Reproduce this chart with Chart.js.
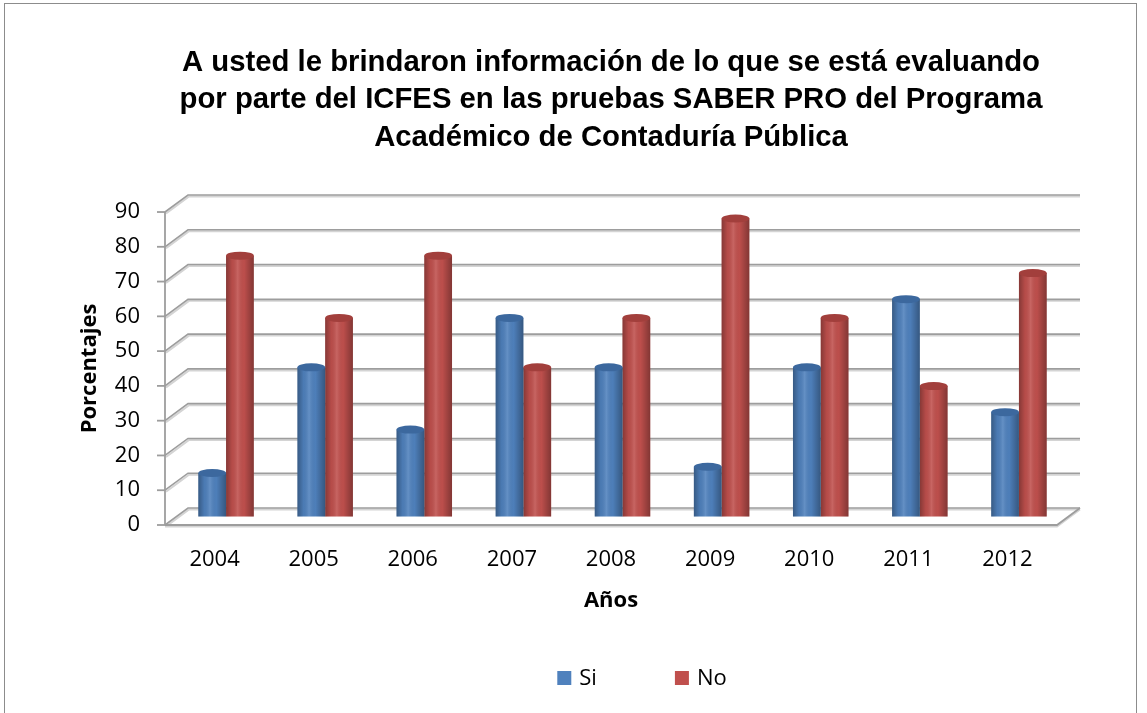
<!DOCTYPE html>
<html>
<head>
<meta charset="utf-8">
<script src="https://cdn.jsdelivr.net/npm/chart.js@4.4.1/dist/chart.umd.min.js"></script>
<style>
html,body{margin:0;padding:0;background:#fff;overflow:hidden;width:1147px;height:713px}
#frame{position:absolute;left:4px;top:3px;width:1133px;height:740px;border:1.5px solid #8c8c8c;box-sizing:border-box}
#wrap{position:absolute;left:0;top:0;width:1147px;height:713px}
</style>
</head>
<body>
<div id="frame"></div>
<div id="wrap"><canvas id="c" width="1147" height="713"></canvas></div>
<script>
// ---- data ----
const categories = ['2004', '2005', '2006', '2007', '2008', '2009', '2010', '2011', '2012'];
const siValues = [12.5, 42.9, 25, 57.1, 42.9, 14.3, 42.9, 62.5, 30];
const noValues = [75, 57.1, 75, 42.9, 57.1, 85.7, 57.1, 37.5, 70];
const seriesNames = ['Si', 'No'];
const yTicks = [0, 10, 20, 30, 40, 50, 60, 70, 80, 90];
const titleLines = [
  'A usted le brindaron información de lo que se está evaluando',
  'por parte del ICFES en las pruebas SABER PRO del Programa',
  'Académico de Contaduría Pública'
];
const xTitle = 'Años';
const yTitle = 'Porcentajes';

// ---- style ----
const COLORS = ['#4f81bd', '#c0504d'];
const CAPS = ['#3c689e', '#a23f3c'];
const DX = 23, DY = 17;
const FONT = '"Open Sans", "DejaVu Sans", sans-serif';

const wallPlugin = {
  id: 'wall3d',
  beforeDatasetsDraw(chart) {
    const {ctx, chartArea: {left, right, bottom}, scales: {y}} = chart;
    ctx.save();
    yTicks.forEach(v => {
      const py = y.getPixelForValue(v);
      ctx.lineWidth = 2;
      ctx.strokeStyle = '#d4d4d4';
      ctx.beginPath();
      ctx.moveTo(left + 1, py + 1.5);
      ctx.lineTo(left + DX + 1, py - DY + 1.5);
      ctx.lineTo(right + DX, py - DY + 1.5);
      ctx.stroke();
      ctx.strokeStyle = '#9d9d9d';
      ctx.lineWidth = 1.6;
      ctx.beginPath();
      ctx.moveTo(left, py);
      ctx.lineTo(left + DX, py - DY);
      ctx.lineTo(right + DX, py - DY);
      ctx.stroke();
    });
    ctx.strokeStyle = '#d4d4d4';
    ctx.lineWidth = 2;
    ctx.beginPath();
    ctx.moveTo(left, bottom + 1.5);
    ctx.lineTo(right, bottom + 1.5);
    ctx.lineTo(right + DX, bottom - DY + 1.5);
    ctx.stroke();
    ctx.strokeStyle = '#9d9d9d';
    ctx.lineWidth = 1.8;
    ctx.beginPath();
    ctx.moveTo(left, bottom);
    ctx.lineTo(right, bottom);
    ctx.lineTo(right + DX, bottom - DY);
    ctx.stroke();
    const top90 = y.getPixelForValue(yTicks[yTicks.length - 1]);
    ctx.beginPath();
    ctx.moveTo(left, top90);
    ctx.lineTo(left, bottom);
    ctx.stroke();
    yTicks.forEach(v => {
      const py = y.getPixelForValue(v);
      ctx.beginPath();
      ctx.moveTo(left - 8, py);
      ctx.lineTo(left, py);
      ctx.stroke();
    });
    ctx.restore();
    ctx.save();
    ctx.translate(DX / 2, -DY / 2);
  },
  afterDatasetsDraw(chart) {
    const ctx = chart.ctx;
    chart.data.datasets.forEach((ds, di) => {
      const meta = chart.getDatasetMeta(di);
      meta.data.forEach(el => {
        const {x, y, base, width} = el.getProps(['x', 'y', 'base', 'width'], true);
        const l = x - width / 2;
        const g = ctx.createLinearGradient(l, 0, l + width, 0);
        g.addColorStop(0, 'rgba(0,0,0,0.30)');
        g.addColorStop(0.22, 'rgba(0,0,0,0.05)');
        g.addColorStop(0.42, 'rgba(255,255,255,0.12)');
        g.addColorStop(0.65, 'rgba(0,0,0,0.02)');
        g.addColorStop(1, 'rgba(0,0,0,0.32)');
        ctx.fillStyle = g;
        ctx.fillRect(l, y, width, base - y);
        ctx.fillStyle = CAPS[di];
        ctx.beginPath();
        ctx.ellipse(x, y, width / 2, 4, 0, 0, Math.PI * 2);
        ctx.fill();
      });
    });
    ctx.restore();
  },
  afterDraw(chart) {
    const ctx = chart.ctx;
    ctx.save();
    ctx.font = '22px ' + FONT;
    ctx.textBaseline = 'middle';
    ctx.textAlign = 'left';
    const box = 14, gap = 8, spacing = 78, cx = 642, cy = 678;
    const widths = chart.data.datasets.map(d => box + gap + ctx.measureText(d.label).width);
    const total = widths.reduce((a, b) => a + b, 0) + spacing * (widths.length - 1);
    let xx = cx - total / 2;
    chart.data.datasets.forEach((d, i) => {
      ctx.fillStyle = d.backgroundColor;
      ctx.fillRect(xx, cy - box / 2, box, box);
      ctx.fillStyle = '#000';
      ctx.fillText(d.label, xx + box + gap, cy + 1);
      xx += widths[i] + spacing;
    });
    ctx.restore();
  }
};

new Chart(document.getElementById('c'), {
  type: 'bar',
  data: {
    labels: categories,
    datasets: [
      {label: seriesNames[0], data: siValues, backgroundColor: COLORS[0], borderWidth: 0, clip: false},
      {label: seriesNames[1], data: noValues, backgroundColor: COLORS[1], borderWidth: 0, clip: false}
    ]
  },
  options: {
    responsive: false,
    animation: false,
    events: [],
    layout: {padding: {left: 77, right: 90, top: 0, bottom: 99}},
    datasets: {bar: {categoryPercentage: 0.56, barPercentage: 1.0}},
    plugins: {
      legend: {display: false},
      tooltip: {enabled: false},
      title: {
        display: true,
        fullSize: false,
        text: titleLines,
        color: '#000',
        font: {family: '"Liberation Sans", Arial, sans-serif', size: 29.3, weight: 'bold', lineHeight: 1.28},
        padding: {top: 44, bottom: 55.5}
      }
    },
    scales: {
      x: {
        grid: {display: false, drawTicks: false},
        border: {display: false},
        ticks: {color: '#000', font: {family: FONT, size: 22}, padding: 21.8},
        title: {display: true, text: xTitle, color: '#000', font: {family: FONT, size: 22, weight: 'bold'}, padding: {top: 14, bottom: 0}},
        afterFit(s) { s.height = 89; }
      },
      y: {
        min: 0, max: 90,
        afterBuildTicks(s) { s.ticks = yTicks.map(v => ({value: v})); },
        grid: {display: false, drawTicks: false},
        border: {display: false},
        ticks: {color: '#000', font: {family: FONT, size: 22}, padding: 25},
        title: {display: true, text: yTitle, color: '#000', font: {family: FONT, size: 22, weight: 'bold'}, padding: {top: 0, bottom: 0}},
        afterFit(s) { s.width = 88; }
      }
    }
  },
  plugins: [wallPlugin]
});
</script>
</body>
</html>
